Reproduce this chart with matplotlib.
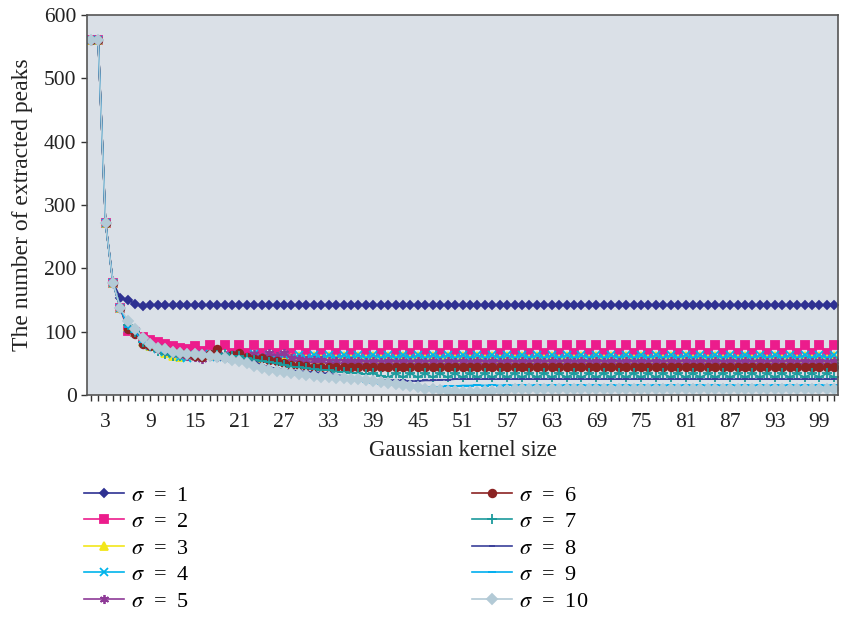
import numpy as np
import matplotlib.pyplot as plt

plt.rcParams['font.family'] = 'Liberation Serif'
plt.rcParams['mathtext.fontset'] = 'stix'

kernel_sizes = list(range(1, 102))

sigma1 = [560, 560, 271, 178, 153, 150, 144, 140, 142, 142,
          142, 142, 142, 142, 142, 142, 142, 142, 142, 142,
          142, 142, 142, 142, 142, 142, 142, 142, 142, 142,
          142, 142, 142, 142, 142, 142, 142, 142, 142, 142,
          142, 142, 142, 142, 142, 142, 142, 142, 142, 142,
          142, 142, 142, 142, 142, 142, 142, 142, 142, 142,
          142, 142, 142, 142, 142, 142, 142, 142, 142, 142,
          142, 142, 142, 142, 142, 142, 142, 142, 142, 142,
          142, 142, 142, 142, 142, 142, 142, 142, 142, 142,
          142, 142, 142, 142, 142, 142, 142, 142, 142, 142,
          142]
sigma2 = [560, 560, 271, 177, 137, 101, 100, 91, 87, 84,
          80, 77, 74, 72, 77, 70, 79, 69, 79, 67,
          79, 67, 79, 67, 79, 67, 79, 67, 79, 67,
          79, 67, 79, 67, 79, 67, 79, 67, 79, 67,
          79, 67, 79, 67, 79, 67, 79, 67, 79, 67,
          79, 67, 79, 67, 79, 67, 79, 67, 79, 67,
          79, 67, 79, 67, 79, 67, 79, 67, 79, 67,
          79, 67, 79, 67, 79, 67, 79, 67, 79, 67,
          79, 67, 79, 67, 79, 67, 79, 67, 79, 67,
          79, 67, 79, 67, 79, 67, 79, 67, 79, 67,
          79]
sigma3 = [560, 560, 271, 177, 137, 108, 100, 84, 78, 74,
          66, 62, 60, 61, 64, 62, 63, 61, 62, 60,
          62, 59, 62, 58, 62, 58, 62, 58, 62, 57,
          62, 57, 62, 57, 62, 57, 62, 57, 62, 57,
          62, 57, 62, 57, 62, 57, 62, 57, 62, 57,
          62, 57, 62, 57, 62, 57, 62, 57, 62, 57,
          62, 57, 62, 57, 62, 57, 62, 57, 62, 57,
          62, 57, 62, 57, 62, 57, 62, 57, 62, 57,
          62, 57, 62, 57, 62, 57, 62, 57, 62, 57,
          62, 57, 62, 57, 62, 57, 62, 57, 62, 57,
          62]
sigma4 = [560, 560, 271, 177, 137, 106, 100, 83, 78, 73,
          68, 65, 60, 58, 63, 61, 64, 60, 62, 59,
          63, 58, 64, 58, 63, 58, 63, 58, 63, 58,
          63, 58, 63, 58, 63, 58, 63, 58, 63, 58,
          63, 58, 63, 58, 63, 58, 63, 58, 63, 58,
          63, 58, 63, 58, 63, 58, 63, 58, 63, 58,
          63, 58, 63, 58, 63, 58, 63, 58, 63, 58,
          63, 58, 63, 58, 63, 58, 63, 58, 63, 58,
          63, 58, 63, 58, 63, 58, 63, 58, 63, 58,
          63, 58, 63, 58, 63, 58, 63, 58, 63, 58,
          63]
sigma5 = [560, 560, 271, 177, 137, 108, 100, 83, 78, 73,
          70, 66, 64, 62, 60, 57, 62, 60, 63, 61,
          62, 60, 64, 60, 66, 62, 67, 58, 57, 56,
          55, 55, 54, 54, 54, 53, 54, 52, 54, 52,
          54, 52, 54, 52, 54, 52, 54, 52, 54, 52,
          54, 52, 54, 52, 54, 52, 54, 52, 54, 52,
          54, 52, 54, 52, 54, 52, 54, 52, 54, 52,
          54, 52, 54, 52, 54, 52, 54, 52, 54, 52,
          54, 52, 54, 52, 54, 52, 54, 52, 54, 52,
          54, 52, 54, 52, 54, 52, 54, 52, 54, 52,
          54]
sigma6 = [560, 560, 271, 177, 137, 104, 97, 80, 78, 75,
          72, 68, 66, 64, 62, 60, 65, 72, 60, 63,
          66, 60, 57, 58, 56, 53, 50, 47, 47, 46,
          45, 45, 44, 45, 44, 45, 44, 45, 44, 45,
          44, 45, 44, 45, 44, 45, 44, 45, 44, 45,
          44, 45, 44, 45, 44, 45, 44, 45, 44, 45,
          44, 45, 44, 45, 44, 45, 44, 45, 44, 45,
          44, 45, 44, 45, 44, 45, 44, 45, 44, 45,
          44, 45, 44, 45, 44, 45, 44, 45, 44, 45,
          44, 45, 44, 45, 44, 45, 44, 45, 44, 45,
          44]
sigma7 = [560, 560, 271, 177, 137, 110, 100, 84, 78, 70,
          64, 62, 62, 64, 63, 65, 62, 63, 64, 62,
          61, 58, 56, 54, 52, 50, 48, 45, 44, 42,
          41, 40, 39, 37, 36, 35, 34, 33, 34, 30,
          28, 34, 28, 34, 28, 34, 28, 34, 28, 34,
          28, 34, 28, 34, 28, 34, 28, 34, 28, 34,
          28, 34, 28, 34, 28, 34, 28, 34, 28, 34,
          28, 34, 28, 34, 28, 34, 28, 34, 28, 34,
          28, 34, 28, 34, 28, 34, 28, 34, 28, 34,
          28, 34, 28, 34, 28, 34, 28, 34, 28, 34,
          28]
sigma8 = [560, 560, 271, 177, 137, 108, 100, 83, 77, 72,
          68, 65, 64, 63, 62, 61, 60, 60, 59, 58,
          56, 54, 52, 48, 44, 42, 40, 39, 38, 37,
          36, 35, 34, 32, 30, 28, 26, 25, 24, 24,
          24, 23, 23, 22, 22, 23, 23, 24, 24, 25,
          25, 25, 25, 25, 25, 25, 25, 25, 25, 25,
          25, 25, 25, 25, 25, 25, 25, 25, 25, 25,
          25, 25, 25, 25, 25, 25, 25, 25, 25, 25,
          25, 25, 25, 25, 25, 25, 25, 25, 25, 25,
          25, 25, 25, 25, 25, 25, 25, 25, 25, 25,
          25]
sigma9 = [560, 560, 271, 177, 137, 107, 100, 84, 77, 72,
          68, 66, 66, 64, 62, 62, 61, 60, 58, 57,
          55, 50, 45, 42, 40, 38, 35, 33, 32, 31,
          30, 29, 28, 27, 26, 25, 23, 21, 19, 18,
          17, 16, 15, 14, 13, 12, 12, 13, 14, 14,
          15, 15, 16, 15, 16, 15, 16, 15, 16, 15,
          16, 15, 16, 15, 16, 15, 16, 15, 16, 15,
          16, 15, 16, 15, 16, 15, 16, 15, 16, 15,
          16, 15, 16, 15, 16, 15, 16, 15, 16, 15,
          16, 15, 16, 15, 16, 15, 16, 15, 16, 15,
          16]
sigma10 = [560, 560, 271, 177, 137, 117, 105, 90, 80, 75,
           72, 68, 67, 65, 64, 63, 62, 60, 58, 56,
           54, 50, 46, 42, 40, 38, 36, 34, 33, 32,
           30, 29, 28, 27, 27, 26, 25, 24, 22, 20,
           19, 18, 16, 14, 12, 10, 9, 8, 7, 6,
           5, 5, 5, 6, 7, 8, 8, 9, 9, 9,
           9, 9, 9, 9, 9, 9, 9, 9, 9, 9,
           9, 9, 9, 9, 9, 9, 9, 9, 9, 9,
           9, 9, 9, 9, 9, 9, 9, 9, 9, 9,
           9, 9, 9, 9, 9, 9, 9, 9, 9, 9,
           9]

series = [sigma1, sigma2, sigma3, sigma4, sigma5,
          sigma6, sigma7, sigma8, sigma9, sigma10]
labels = [r'$\sigma$  =  %d' % (i + 1) for i in range(10)]
colors = ['#2E3192', '#EC1C8C', '#F2E61A', '#00B4EB', '#8E3A97',
          '#8B2323', '#1B9A9C', '#3A3F9A', '#00AEEF', '#B3CAD6']
markers = ['D', 's', '^', 'x', (6, 2, 0), 'o', '+', '_', '_', 'D']
msizes = [4.5, 5.5, 6, 5.5, 6.5, 5.5, 7, 5, 6, 5.5]

fig = plt.figure(figsize=(8.43, 6.17), dpi=100)
ax = fig.add_axes([87 / 843, 1 - 395 / 617, 751 / 843, 380 / 617])
ax.set_facecolor('#DAE0E7')

handles = []
for ys, lab, c, m, ms in zip(series, labels, colors, markers, msizes):
    h, = ax.plot(kernel_sizes, ys, color=c, marker=m, markersize=ms,
                 linewidth=1.2, markeredgewidth=1.3, label=lab)
    handles.append(h)

ax.set_xlim(0.5, 101.5)
ax.set_ylim(0, 600)
ax.set_xticks(kernel_sizes)
ax.set_xticklabels([str(k) if (k - 3) % 6 == 0 else '' for k in kernel_sizes])
ax.set_yticks(range(0, 601, 100))
ax.tick_params(axis='both', direction='out', length=4, width=1, colors='#333333',
               labelcolor='#222222', labelsize=15.5)
ax.tick_params(axis='x', pad=9)
for s in ax.spines.values():
    s.set_color('#555555')
    s.set_linewidth(1.2)

ax.set_xlabel('Gaussian kernel size', fontsize=16.5, color='#222222', labelpad=6)
ax.set_ylabel('The number of extracted peaks', fontsize=17, color='#222222', labelpad=8)

# two separate legends so the columns sit where the original has them
leg_kw = dict(loc='upper left', frameon=False, fontsize=16, handlelength=1.8,
              labelspacing=0.27, handletextpad=0.3)
fig.legend(handles[:5], labels[:5], bbox_to_anchor=(64 / 843, 1 - 465 / 617), **leg_kw)
fig.legend(handles[5:], labels[5:], bbox_to_anchor=(452 / 843, 1 - 465 / 617), **leg_kw)

fig.savefig('out.png', dpi=100)
